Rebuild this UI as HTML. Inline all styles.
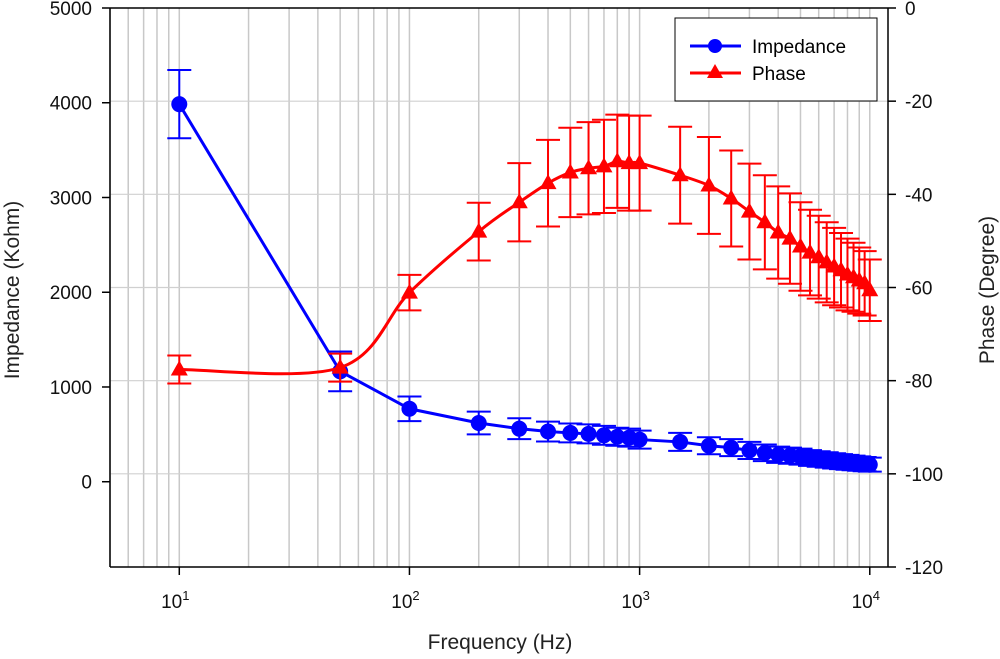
<!DOCTYPE html>
<html><head><meta charset="utf-8"><style>
html,body{margin:0;padding:0;background:#fff;}
svg{display:block;font-family:"Liberation Sans",Arial,sans-serif;}
</style></head><body>
<svg id="chart" width="1000" height="659" viewBox="0 0 1000 659">
<g id="grid"></g>
<g id="axes"></g>
<g id="series"></g>
<g>
  <rect x="675" y="18" width="202" height="83" fill="#fff" stroke="#000" stroke-width="1"/>
  <g>
    <line x1="690" y1="46" x2="741" y2="46" stroke="#0000ff" stroke-width="3"/>
    <circle cx="715" cy="46" r="7" fill="#0000ff"/>
    <text x="752" y="53" font-size="19" fill="#000">Impedance</text>
  </g>
  <g>
    <line x1="690" y1="73" x2="741" y2="73" stroke="#ff0000" stroke-width="3"/>
    <polygon points="715,64 723,78 707,78" fill="#ff0000"/>
    <text x="752" y="80" font-size="19" fill="#000">Phase</text>
  </g>
</g>
<text x="500" y="649" font-size="21" text-anchor="middle" fill="#222">Frequency (Hz)</text>
<text transform="translate(19,290) rotate(-90)" font-size="21" text-anchor="middle" fill="#222">Impedance (Kohm)</text>
<text transform="translate(994,290) rotate(-90)" font-size="21" text-anchor="middle" fill="#222">Phase (Degree)</text>
</svg>
<script>
const freqs = [10,50,100,200,300,400,500,600,700,800,900,1000,1500,2000,2500,3000,3500,4000,4500,5000,5500,6000,6500,7000,7500,8000,8500,9000,9500,10000];
const impedance = [3985,1165,770,620,560,530,515,505,490,475,465,445,420,380,360,330,305,285,275,265,250,240,230,220,212,205,198,192,186,180];
const impedanceErr = [360,210,130,120,110,105,100,100,100,95,95,95,95,90,90,90,88,86,85,84,83,82,81,80,79,78,77,76,75,74];
const phase = [-77.6,-77.2,-61.1,-48.0,-41.7,-37.6,-35.3,-34.4,-34.0,-32.9,-33.3,-33.3,-35.9,-38.1,-40.9,-43.7,-46.0,-48.2,-49.5,-51.2,-52.5,-53.5,-54.6,-55.5,-56.3,-57.2,-57.8,-58.5,-59.1,-60.6];
const phaseErr = [3.0,3.0,3.8,6.2,8.4,9.3,9.6,9.9,10.0,10.0,10.2,10.2,10.4,10.4,10.3,10.3,10.1,9.9,9.7,9.5,9.2,8.9,8.6,8.3,8.0,7.7,7.4,7.1,6.9,6.6];
const leftTicks = [0,1000,2000,3000,4000,5000];
const rightTicks = [0,-20,-40,-60,-80,-100,-120];
const xMajor = [10,100,1000,10000];

const NS = "http://www.w3.org/2000/svg";
const L = 110, R = 888, T = 8, B = 567;
const xMin = 5, xMax = 12000;
const yLMin = -900, yLMax = 5000;
const yRMin = -120, yRMax = 0;
const xs = v => L + (Math.log10(v) - Math.log10(xMin)) / (Math.log10(xMax) - Math.log10(xMin)) * (R - L);
const yl = v => B - (v - yLMin) / (yLMax - yLMin) * (B - T);
const yr = v => B - (v - yRMin) / (yRMax - yRMin) * (B - T);

function mk(parent, tag, attrs) {
  const e = document.createElementNS(NS, tag);
  for (const k in attrs) e.setAttribute(k, attrs[k]);
  parent.appendChild(e);
  return e;
}
const grid = document.getElementById('grid');
const axes = document.getElementById('axes');
const series = document.getElementById('series');

for (let d = 0; d <= 4; d++) {
  for (let m = 1; m <= 9; m++) {
    const v = m * Math.pow(10, d);
    if (v < xMin || v > xMax) continue;
    const g = mk(grid, 'line', {x1: xs(v), x2: xs(v), y1: T, y2: B, stroke: '#c8c8c8', 'stroke-width': 1.5});
    
    
  }
}
rightTicks.forEach(t => {
  if (t === yRMin || t === yRMax) return;
  const g = mk(grid, 'line', {x1: L, x2: R, y1: yr(t), y2: yr(t), stroke: '#d0d0d0', 'stroke-width': 1.2});
  
  
});

mk(axes, 'line', {x1: L, x2: L, y1: T, y2: B, stroke: '#000', 'stroke-width': 1.5});
mk(axes, 'line', {x1: R, x2: R, y1: T, y2: B, stroke: '#000', 'stroke-width': 1.5});
mk(axes, 'line', {x1: L, x2: R, y1: T, y2: T, stroke: '#000', 'stroke-width': 1.5});
mk(axes, 'line', {x1: L, x2: R, y1: B, y2: B, stroke: '#000', 'stroke-width': 1.5});

leftTicks.forEach(t => {
  const y = yl(t);
  mk(axes, 'line', {x1: L - 8, x2: L, y1: y, y2: y, stroke: '#000', 'stroke-width': 1.5});
  const tx = mk(axes, 'text', {x: L - 18, y: y + 7, 'font-size': 19, 'text-anchor': 'end', fill: '#111'});
  tx.textContent = t;
  
  
});
rightTicks.forEach(t => {
  const y = yr(t);
  mk(axes, 'line', {x1: R, x2: R + 8, y1: y, y2: y, stroke: '#000', 'stroke-width': 1.5});
  const tx = mk(axes, 'text', {x: R + 17, y: y + 7, 'font-size': 19, 'text-anchor': 'start', fill: '#111'});
  tx.textContent = t;
  
  
});
xMajor.forEach(v => {
  const x = xs(v);
  mk(axes, 'line', {x1: x, x2: x, y1: B, y2: B + 8, stroke: '#000', 'stroke-width': 1.5});
  const tx = mk(axes, 'text', {x: x - 4, y: B + 41, 'font-size': 19, 'text-anchor': 'middle', fill: '#111'});
  tx.textContent = '10';
  const sup = mk(tx, 'tspan', {dy: -8, 'font-size': 13});
  sup.textContent = String(Math.round(Math.log10(v)));
  
  
});

function smoothPath(pts) {
  let d = 'M' + pts[0][0] + ',' + pts[0][1];
  for (let i = 0; i < pts.length - 1; i++) {
    const p0 = pts[Math.max(0, i - 1)], p1 = pts[i], p2 = pts[i + 1], p3 = pts[Math.min(pts.length - 1, i + 2)];
    const c1x = p1[0] + (p2[0] - p0[0]) / 6, c1y = p1[1] + (p2[1] - p0[1]) / 6;
    const c2x = p2[0] - (p3[0] - p1[0]) / 6, c2y = p2[1] - (p3[1] - p1[1]) / 6;
    d += ' C' + c1x + ',' + c1y + ' ' + c2x + ',' + c2y + ' ' + p2[0] + ',' + p2[1];
  }
  return d;
}

function drawSeries(vals, errs, yf, color, marker, name, smooth) {
  const g = mk(series, 'g', {});
  
  
  const pts = freqs.map((f, i) => [xs(f), yf(vals[i])]);
  freqs.forEach((f, i) => {
    const x = xs(f), y1 = yf(vals[i] + errs[i]), y2 = yf(vals[i] - errs[i]);
    const eb = mk(g, 'path', {d: `M${x},${y1}V${y2}M${x-12},${y1}H${x+12}M${x-12},${y2}H${x+12}`, stroke: color, 'stroke-width': 2, fill: 'none'});
    
    
  });
  const d = smooth ? smoothPath(pts) : 'M' + pts.map(p => p[0] + ',' + p[1]).join(' L');
  const ln = mk(g, 'path', {d: d, stroke: color, 'stroke-width': 3, fill: 'none'});
  
  
  pts.forEach(p => {
    let m;
    if (marker === 'circle') m = mk(g, 'circle', {cx: p[0], cy: p[1], r: 8, fill: color});
    else m = mk(g, 'polygon', {points: `${p[0]},${p[1]-9} ${p[0]+8.5},${p[1]+6} ${p[0]-8.5},${p[1]+6}`, fill: color});
    
    
  });
}
drawSeries(impedance, impedanceErr, yl, '#0000ff', 'circle', 'impedance', false);
drawSeries(phase, phaseErr, yr, '#ff0000', 'triangle', 'phase', true);
</script>
</body></html>
